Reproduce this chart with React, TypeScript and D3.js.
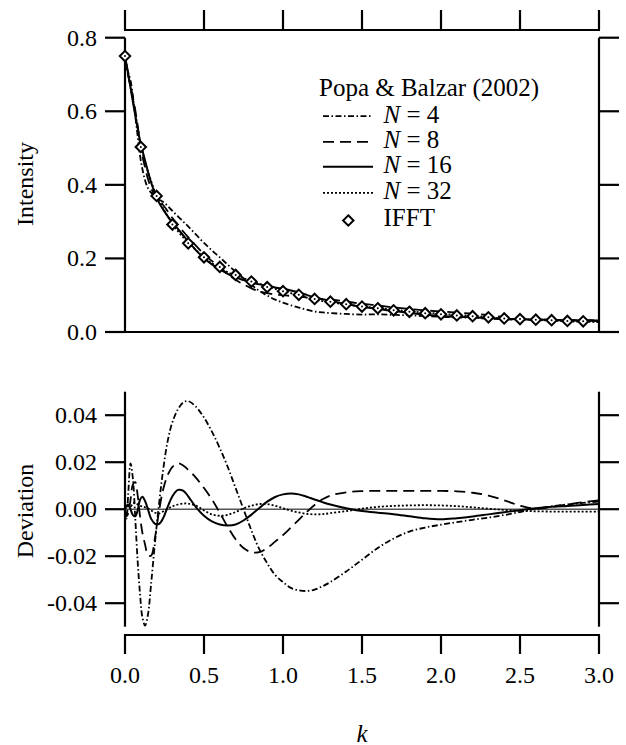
import React from "react";
import * as d3 from "d3";

// ---------- data ----------
const kGrid = [0, 0.01, 0.02, 0.035, 0.05, 0.065, 0.08, 0.095, 0.11, 0.127, 0.145, 0.165, 0.19, 0.215, 0.24, 0.27, 0.3, 0.335, 0.37, 0.4, 0.45, 0.5, 0.55, 0.6, 0.65, 0.7, 0.75, 0.8, 0.85, 0.9, 0.95, 1.0, 1.05, 1.1, 1.15, 1.2, 1.25, 1.3, 1.4, 1.5, 1.6, 1.7, 1.8, 1.9, 2.0, 2.1, 2.2, 2.3, 2.4, 2.5, 2.6, 2.7, 2.8, 2.9, 3.0];

// intensity curve that the Popa & Balzar lines follow
const baseIntensity = [0.75, 0.725, 0.70, 0.664, 0.628, 0.592, 0.555, 0.516, 0.489, 0.462, 0.436, 0.411, 0.382, 0.358, 0.338, 0.314, 0.292, 0.272, 0.254, 0.241, 0.221, 0.203, 0.189, 0.177, 0.165, 0.155, 0.146, 0.137, 0.129, 0.122, 0.116, 0.111, 0.106, 0.101, 0.0955, 0.090, 0.086, 0.0825, 0.0755, 0.069, 0.0645, 0.059, 0.055, 0.051, 0.048, 0.045, 0.043, 0.040, 0.037, 0.035, 0.0335, 0.032, 0.030, 0.029, 0.028];

const devN4 = [0, -0.004, 0.006, 0.0195, 0.013, -0.004, -0.022, -0.036, -0.046, -0.0495, -0.045, -0.032, -0.014, 0.002, 0.016, 0.029, 0.037, 0.0425, 0.0455, 0.046, 0.0435, 0.039, 0.033, 0.026, 0.018, 0.009, 0.0, -0.009, -0.017, -0.023, -0.028, -0.031, -0.0335, -0.0345, -0.0348, -0.0342, -0.0328, -0.031, -0.0265, -0.0215, -0.0165, -0.0125, -0.0095, -0.0078, -0.0066, -0.0055, -0.0045, -0.0036, -0.0025, -0.0012, 0.0002, 0.0012, 0.002, 0.0027, 0.0033];

const devN8 = [0, -0.003, -0.002, 0.004, 0.0105, 0.0115, 0.006, -0.003, -0.010, -0.015, -0.0195, -0.0198, -0.012, -0.001, 0.008, 0.0145, 0.018, 0.0195, 0.0185, 0.0168, 0.0133, 0.009, 0.0042, -0.0015, -0.0075, -0.0128, -0.0165, -0.0183, -0.0183, -0.0165, -0.0138, -0.011, -0.0078, -0.0045, -0.0012, 0.0018, 0.0042, 0.0058, 0.0072, 0.0077, 0.0078, 0.0078, 0.0078, 0.0078, 0.0078, 0.0076, 0.007, 0.0058, 0.0038, 0.0015, 0.0002, 0.001, 0.002, 0.003, 0.0038];

const devN16 = [0, 0.0015, 0.002, 0.0, -0.0025, -0.003, -0.0005, 0.004, 0.0053, 0.0035, 0.0, -0.004, -0.0062, -0.0063, -0.004, 0.001, 0.0055, 0.0082, 0.0078, 0.0055, 0.0008, -0.0028, -0.0052, -0.0065, -0.0069, -0.0065, -0.0048, -0.0023, 0.0005, 0.0032, 0.0052, 0.0063, 0.0067, 0.0063, 0.0053, 0.0041, 0.003, 0.002, 0.0004, -0.0008, -0.0015, -0.0021, -0.003, -0.0039, -0.0043, -0.0038, -0.0031, -0.0022, -0.0013, -0.0004, 0.0004, 0.001, 0.0014, 0.0018, 0.0022];

const devN32 = [0, 0.001, 0.0015, 0.001, 0.0025, 0.0028, 0.002, 0.0015, 0.0012, 0.0008, 0.0004, -0.0005, -0.0015, -0.0018, -0.001, 0.0002, 0.0012, 0.002, 0.0024, 0.0024, 0.0015, -0.0005, -0.0022, -0.0028, -0.0024, -0.0012, 0.0003, 0.0015, 0.0022, 0.0022, 0.0015, 0.0004, -0.0006, -0.0014, -0.002, -0.0022, -0.0021, -0.0017, -0.0008, 0.0002, 0.001, 0.0014, 0.0016, 0.0017, 0.0016, 0.0013, 0.0008, 0.0002, -0.0003, -0.0007, -0.0009, -0.001, -0.001, -0.001, -0.001];

const ifftK = [0, 0.1, 0.2, 0.3, 0.4, 0.5, 0.6, 0.7, 0.8, 0.9, 1.0, 1.1, 1.2, 1.3, 1.4, 1.5, 1.6, 1.7, 1.8, 1.9, 2.0, 2.1, 2.2, 2.3, 2.4, 2.5, 2.6, 2.7, 2.8, 2.9];
const ifftI = [0.75, 0.503, 0.37, 0.292, 0.241, 0.203, 0.177, 0.155, 0.137, 0.122, 0.111, 0.101, 0.090, 0.0825, 0.0755, 0.069, 0.0645, 0.059, 0.055, 0.051, 0.048, 0.045, 0.043, 0.040, 0.037, 0.035, 0.0335, 0.032, 0.030, 0.029];

const kTicks = [0, 0.5, 1.0, 1.5, 2.0, 2.5, 3.0];
const kTickLabels = ["0.0", "0.5", "1.0", "1.5", "2.0", "2.5", "3.0"];
const intensityTicks = [0, 0.2, 0.4, 0.6, 0.8];
const intensityTickLabels = ["0.0", "0.2", "0.4", "0.6", "0.8"];
const devTicks = [-0.04, -0.02, 0, 0.02, 0.04];
const devTickLabels = ["-0.04", "-0.02", "0.00", "0.02", "0.04"];

const seriesNames = ["4", "8", "16", "32"];
const seriesDevs = [devN4, devN8, devN16, devN32];
const seriesDash = ["6,2.5,1.5,2.5", "11,6", "none", "2,2"];
const seriesWidth = [1.8, 1.8, 2, 1.8];

// ---------- layout ----------
const W = 626;
const H = 745;
const FONT = '"Liberation Serif", "DejaVu Serif", serif';

const x = d3.scaleLinear().domain([0, 3]).range([125, 599]);
const yTop = d3.scaleLinear().domain([0, 0.8]).range([332, 37.7]);
const yBot = d3.scaleLinear().domain([-0.05, 0.05]).range([626.7, 391.7]);

const diamond = (cx: number, cy: number, r: number) =>
  `M${cx},${cy - r}L${cx + r},${cy}L${cx},${cy + r}L${cx - r},${cy}Z`;

export default function App() {
  const lineTop = d3
    .line<number>()
    .x((_, i) => x(kGrid[i]))
    .y((v) => yTop(v))
    .curve(d3.curveCatmullRom.alpha(0.5));
  const lineBot = d3
    .line<number>()
    .x((_, i) => x(kGrid[i]))
    .y((v) => yBot(v))
    .curve(d3.curveCatmullRom.alpha(0.5));

  const axisStroke = { stroke: "#000", strokeWidth: 2.2 };
  const left = x(0);
  const right = x(3);
  const tickLen = 20;
  const txt = { fontFamily: FONT };

  return (
    <svg
      width={W}
      height={H}
      viewBox={`0 0 ${W} ${H}`}
      style={{ position: "absolute", left: 0, top: 0, background: "#fff", fontFamily: FONT }}
    >
      <rect width={W} height={H} fill="#fff" />

      {/* top mirrored x axis */}
      <line x1={left - 1} x2={right + 1} y1={30} y2={30} {...axisStroke} />
      {kTicks.map((t) => (
        <line key={"tt" + t} x1={x(t)} x2={x(t)} y1={30} y2={10} {...axisStroke} />
      ))}

      {/* ---- top panel ---- */}
      <line x1={left} x2={left} y1={yTop(0.8)} y2={yTop(0)} {...axisStroke} />
      <line x1={right} x2={right} y1={yTop(0.8)} y2={yTop(0)} {...axisStroke} />
      <line x1={left - tickLen} x2={right + tickLen} y1={yTop(0)} y2={yTop(0)} {...axisStroke} />
      {intensityTicks.map((t, i) => (
        <g key={"it" + t}>
          <line x1={left - tickLen} x2={left} y1={yTop(t)} y2={yTop(t)} {...axisStroke} />
          <line x1={right} x2={right + tickLen} y1={yTop(t)} y2={yTop(t)} {...axisStroke} />
          <text x={97} y={yTop(t) + 8} fontSize={24} textAnchor="end" style={txt}>
            {intensityTickLabels[i]}
          </text>
        </g>
      ))}
      <text
        x={33}
        y={184}
        fontSize={24}
        textAnchor="middle"
        transform="rotate(-90 33 184)"
        style={txt}
      >
        Intensity
      </text>

      {seriesDevs.map((dev, si) => (
        <path
          key={"top" + si}
          d={lineTop(baseIntensity.map((b, i) => b + dev[i])) || ""}
          fill="none"
          stroke="#000"
          strokeWidth={seriesWidth[si]}
          strokeDasharray={seriesDash[si]}
        />
      ))}
      {ifftK.map((k, i) => (
        <g key={"d" + i}>
          <path d={diamond(x(k), yTop(ifftI[i]), 5.2)} fill="#fff" stroke="#000" strokeWidth={2} />
          <circle cx={x(k)} cy={yTop(ifftI[i])} r={1} fill="#000" />
        </g>
      ))}

      {/* legend */}
      <text x={319} y={96} fontSize={25} style={txt}>
        Popa &amp; Balzar (2002)
      </text>
      {seriesNames.map((n, si) => {
        const base = [122.7, 148.3, 173.3, 199.3][si];
        return (
          <g key={"lg" + si}>
            <line
              x1={323}
              x2={373}
              y1={base - 6.5}
              y2={base - 6.5}
              stroke="#000"
              strokeWidth={seriesWidth[si]}
              strokeDasharray={seriesDash[si]}
            />
            <text x={383.5} y={base} fontSize={25} style={txt}>
              <tspan fontStyle="italic">N</tspan> = {n}
            </text>
          </g>
        );
      })}
      <path d={diamond(348.3, 220.5, 5.2)} fill="#fff" stroke="#000" strokeWidth={2} />
      <text x={383.5} y={225.7} fontSize={25} style={txt}>
        IFFT
      </text>

      {/* ---- bottom panel ---- */}
      <line x1={left} x2={right} y1={yBot(0)} y2={yBot(0)} stroke="#555" strokeWidth={1.4} />
      <line x1={left} x2={left} y1={yBot(0.05)} y2={yBot(-0.05)} {...axisStroke} />
      <line x1={right} x2={right} y1={yBot(0.05)} y2={yBot(-0.05)} {...axisStroke} />
      {devTicks.map((t, i) => (
        <g key={"dt" + t}>
          <line x1={left - tickLen} x2={left} y1={yBot(t)} y2={yBot(t)} {...axisStroke} />
          <line x1={right} x2={right + tickLen} y1={yBot(t)} y2={yBot(t)} {...axisStroke} />
          <text x={97} y={yBot(t) + 8} fontSize={24} textAnchor="end" style={txt}>
            {devTickLabels[i]}
          </text>
        </g>
      ))}
      <text
        x={33}
        y={511}
        fontSize={24}
        textAnchor="middle"
        transform="rotate(-90 33 511)"
        style={txt}
      >
        Deviation
      </text>
      {seriesDevs.map((dev, si) => (
        <path
          key={"bot" + si}
          d={lineBot(dev) || ""}
          fill="none"
          stroke="#000"
          strokeWidth={seriesWidth[si]}
          strokeDasharray={seriesDash[si]}
        />
      ))}

      {/* bottom x axis */}
      <line x1={left - 1} x2={right + 1} y1={635} y2={635} {...axisStroke} />
      {kTicks.map((t, i) => (
        <g key={"bt" + t}>
          <line x1={x(t)} x2={x(t)} y1={635} y2={654} {...axisStroke} />
          <text x={x(t)} y={683} fontSize={24} textAnchor="middle" style={txt}>
            {kTickLabels[i]}
          </text>
        </g>
      ))}
      <text x={362} y={741.5} fontSize={25} fontStyle="italic" textAnchor="middle" style={txt}>
        k
      </text>
    </svg>
  );
}
